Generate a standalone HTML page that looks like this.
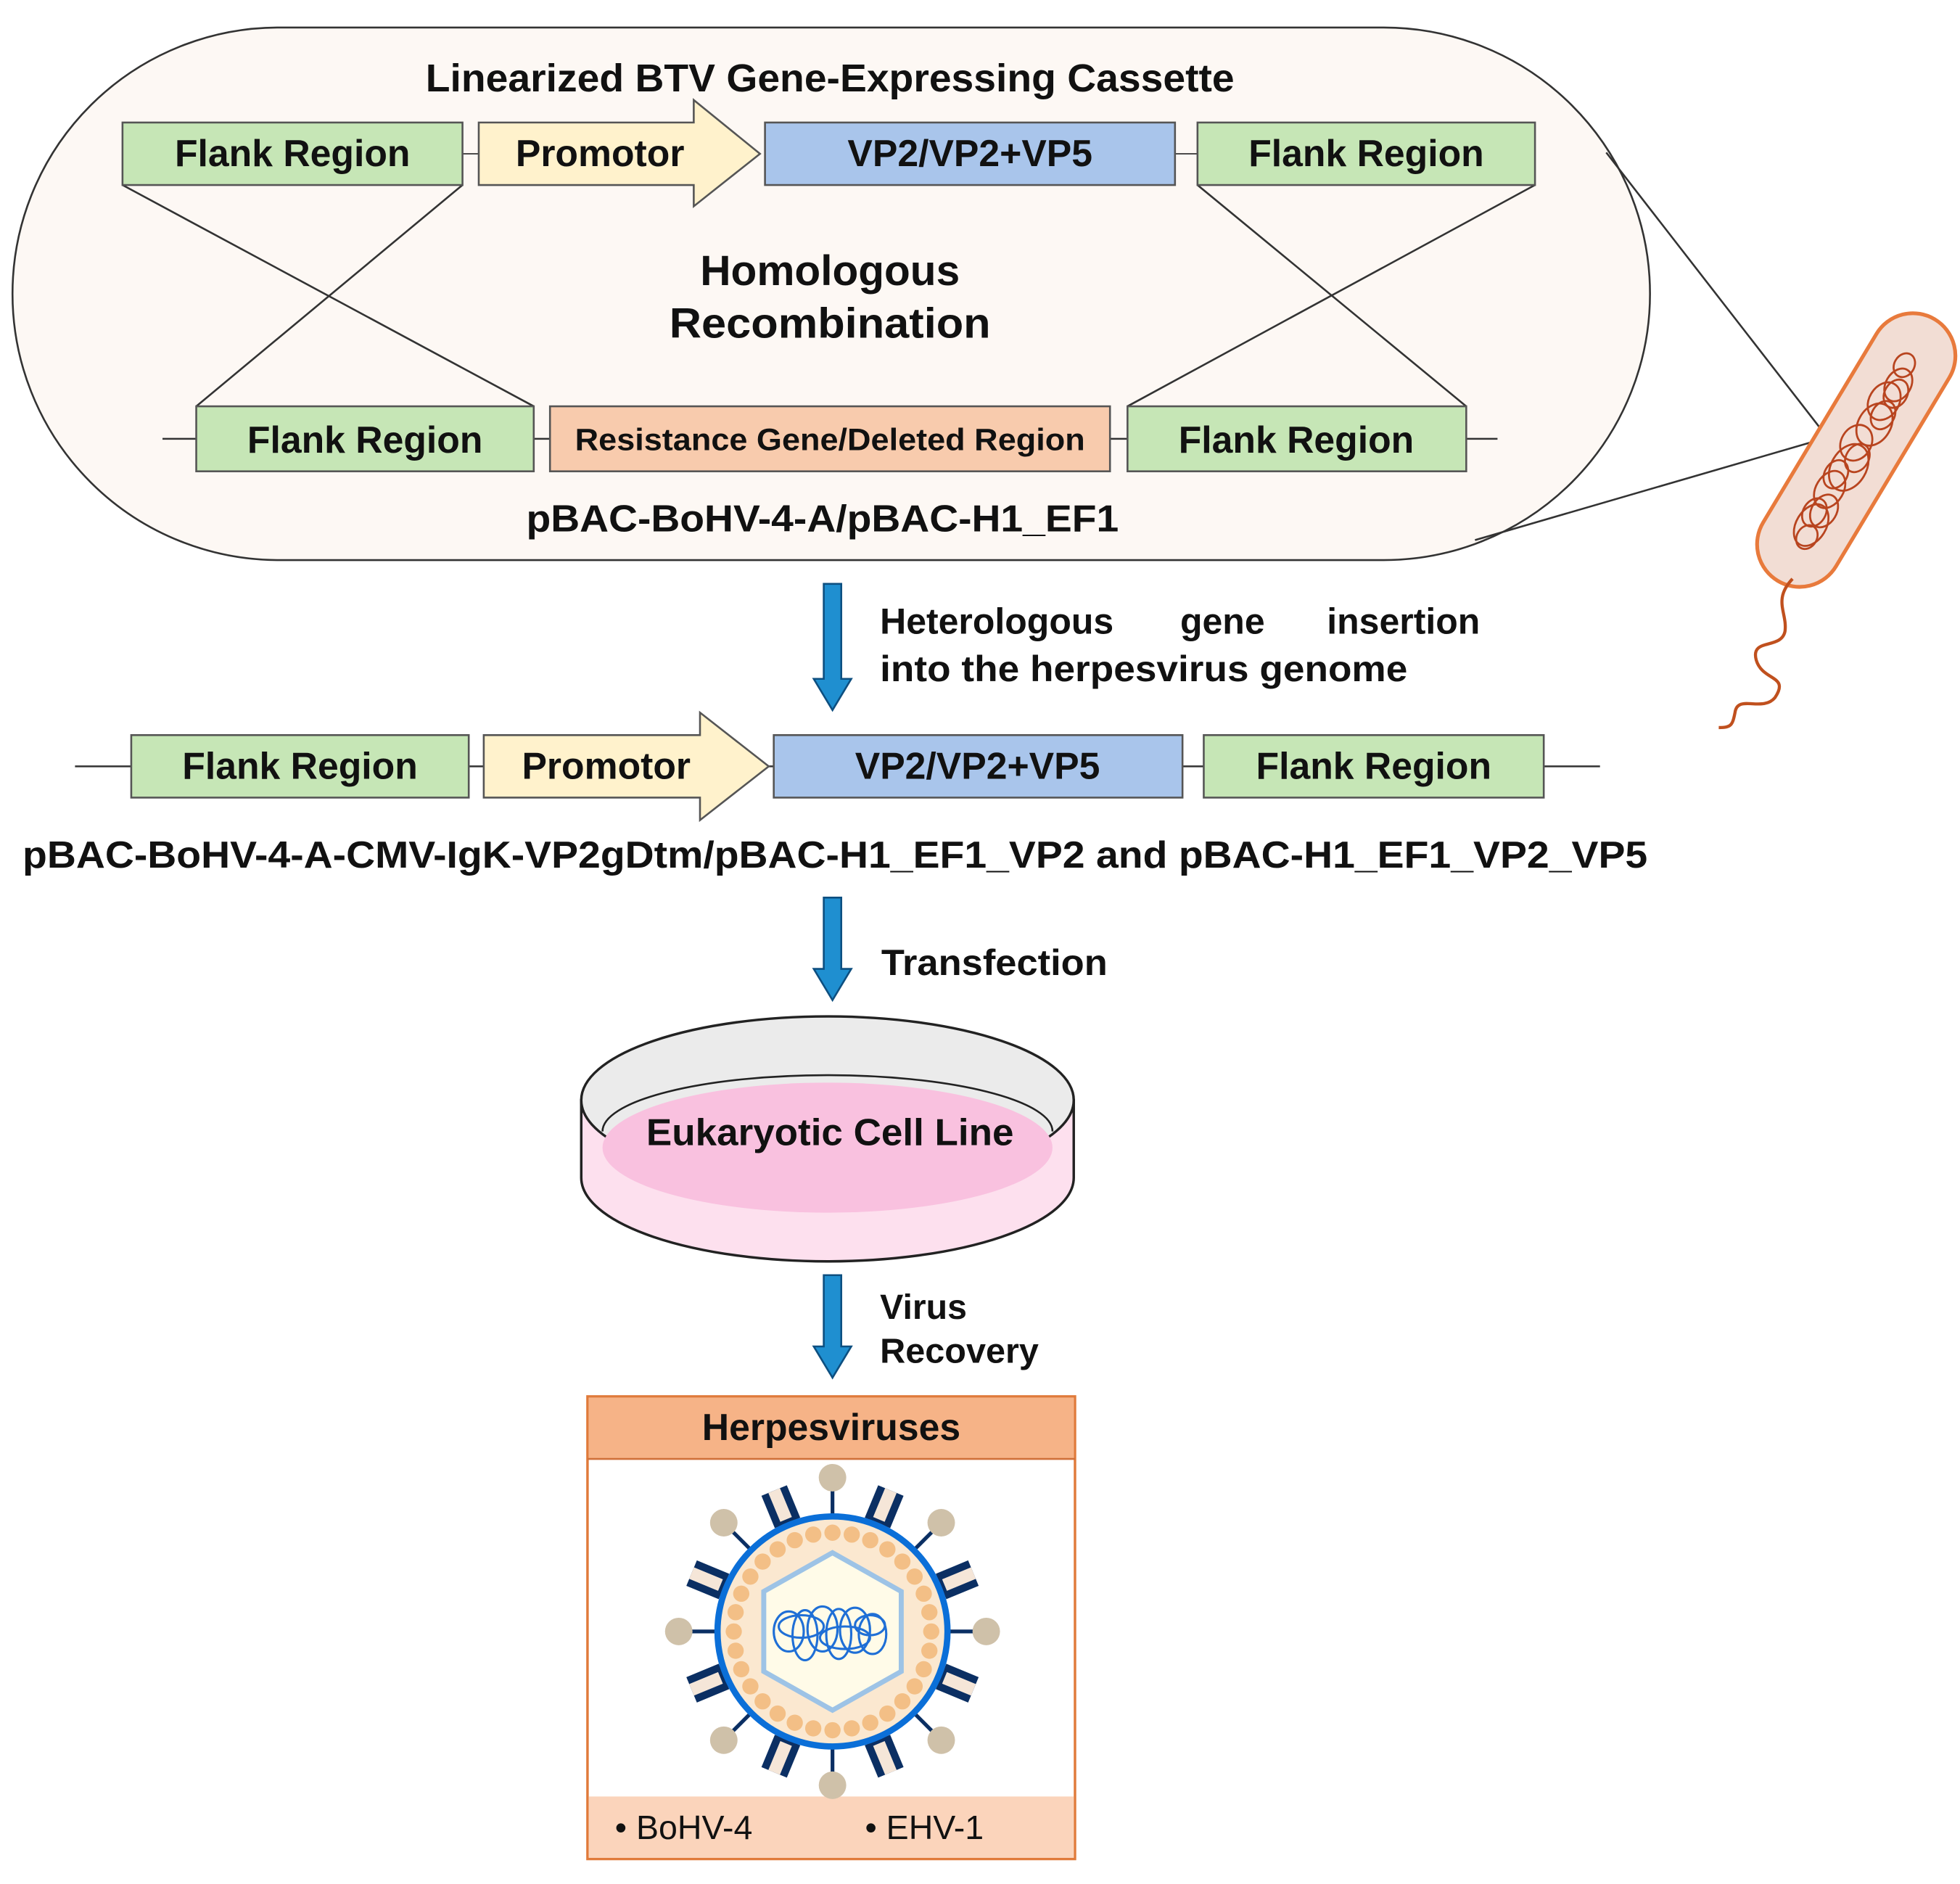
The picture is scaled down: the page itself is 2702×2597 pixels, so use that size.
<!DOCTYPE html>
<html><head><meta charset="utf-8"><style>
html,body{margin:0;padding:0;background:#fff}
svg{display:block}
text{font-family:"Liberation Sans",Arial,sans-serif;font-weight:bold;fill:#111}
</style></head><body>
<svg width="2702" height="2597" viewBox="0 0 1568 1507" preserveAspectRatio="none" xmlns="http://www.w3.org/2000/svg">
<defs>
<g id="lolli"><line x1="0" y1="-92" x2="0" y2="-116" stroke="#0b2f63" stroke-width="3"/><circle cx="0" cy="-123" r="11" fill="#cfc1a9"/></g>
<g id="block"><rect x="-11" y="-122" width="22" height="28" fill="#0b2f63"/><rect x="-5" y="-122" width="10" height="25" fill="#f5e6d8"/></g>
</defs>
<rect x="10" y="22" width="1310" height="426" rx="213" ry="213" fill="#fdf8f4" stroke="#333" stroke-width="1.5"/>
<line x1="1285" y1="122" x2="1462" y2="350" stroke="#333" stroke-width="1.5"/>
<line x1="1180" y1="432" x2="1462" y2="350" stroke="#333" stroke-width="1.5"/>
<text x="664" y="73" font-size="31" text-anchor="middle" textLength="647" lengthAdjust="spacingAndGlyphs">Linearized BTV Gene-Expressing Cassette</text>
<line x1="370" y1="123" x2="383" y2="123" stroke="#333"/>
<line x1="940" y1="123" x2="958" y2="123" stroke="#333"/>
<line x1="98" y1="148" x2="427" y2="325" stroke="#333" stroke-width="1.5"/>
<line x1="370" y1="148" x2="157" y2="325" stroke="#333" stroke-width="1.5"/>
<line x1="958" y1="148" x2="1173" y2="325" stroke="#333" stroke-width="1.5"/>
<line x1="1228" y1="148" x2="902" y2="325" stroke="#333" stroke-width="1.5"/>
<rect x="98" y="98" width="272" height="50" fill="#c6e6b6" stroke="#555" stroke-width="1.5"/>
<text x="234" y="133" font-size="30" text-anchor="middle">Flank Region</text>
<polygon points="383,98 555,98 555,80 608,123 555,165 555,148 383,148" fill="#fff2cc" stroke="#555" stroke-width="1.5"/>
<text x="480" y="133" font-size="30" text-anchor="middle">Promotor</text>
<rect x="612" y="98" width="328" height="50" fill="#a9c5eb" stroke="#555" stroke-width="1.5"/>
<text x="776" y="133" font-size="30" text-anchor="middle">VP2/VP2+VP5</text>
<rect x="958" y="98" width="270" height="50" fill="#c6e6b6" stroke="#555" stroke-width="1.5"/>
<text x="1093" y="133" font-size="30" text-anchor="middle">Flank Region</text>
<text x="664" y="228" font-size="34" text-anchor="middle">Homologous</text>
<text x="664" y="270" font-size="34" text-anchor="middle" textLength="257" lengthAdjust="spacingAndGlyphs">Recombination</text>
<line x1="130" y1="351" x2="1198" y2="351" stroke="#333" stroke-width="1.5"/>
<rect x="157" y="325" width="270" height="52" fill="#c6e6b6" stroke="#555" stroke-width="1.5"/>
<text x="292" y="362" font-size="30" text-anchor="middle">Flank Region</text>
<rect x="440" y="325" width="448" height="52" fill="#f8cbad" stroke="#555" stroke-width="1.5"/>
<text x="664" y="360" font-size="25" text-anchor="middle" textLength="408" lengthAdjust="spacingAndGlyphs">Resistance Gene/Deleted Region</text>
<rect x="902" y="325" width="271" height="52" fill="#c6e6b6" stroke="#555" stroke-width="1.5"/>
<text x="1037" y="362" font-size="30" text-anchor="middle">Flank Region</text>
<text x="658" y="425" font-size="30" text-anchor="middle" textLength="474" lengthAdjust="spacingAndGlyphs">pBAC-BoHV-4-A/pBAC-H1_EF1</text>
<g transform="translate(1485,360) rotate(-59)">
<rect x="-122" y="-34" width="244" height="68" rx="34" fill="#f2ddd4" stroke="#e87a3c" stroke-width="3"/>
<g fill="none" stroke="#b8441f" stroke-width="1.6">
<ellipse cx="-70" cy="0" rx="18" ry="12"/><ellipse cx="-55" cy="3" rx="14" ry="10"/><ellipse cx="-38" cy="-2" rx="16" ry="11"/>
<ellipse cx="-15" cy="2" rx="20" ry="14"/><ellipse cx="5" cy="-3" rx="15" ry="12"/><ellipse cx="25" cy="2" rx="18" ry="13"/>
<ellipse cx="45" cy="-1" rx="16" ry="12"/><ellipse cx="62" cy="2" rx="14" ry="10"/><ellipse cx="78" cy="-2" rx="10" ry="8"/>
<ellipse cx="-80" cy="2" rx="10" ry="8"/><ellipse cx="-25" cy="-4" rx="12" ry="9"/><ellipse cx="35" cy="4" rx="12" ry="9"/>
<ellipse cx="-60" cy="-3" rx="12" ry="9"/><ellipse cx="55" cy="4" rx="12" ry="9"/><ellipse cx="-5" cy="4" rx="12" ry="9"/>
</g>
</g>
<path d="M1434,463 C1418,480 1430,490 1428,505 C1425,520 1400,510 1405,528 C1410,545 1432,540 1420,558 C1410,570 1390,555 1388,570 C1386,580 1385,582 1375,582" fill="none" stroke="#c0501e" stroke-width="2.5"/>
<polygon points="659,467 673,467 673,543 681,543 666,568 651,543 659,543" fill="#1f8fd0" stroke="#0d4f80" stroke-width="1.5"/>
<text x="704" y="507" font-size="29">Heterologous</text>
<text x="978" y="507" font-size="29" text-anchor="middle">gene</text>
<text x="1184" y="507" font-size="29" text-anchor="end">insertion</text>
<text x="704" y="545" font-size="29" textLength="422" lengthAdjust="spacingAndGlyphs">into the herpesvirus genome</text>
<line x1="60" y1="613" x2="1280" y2="613" stroke="#333" stroke-width="1.5"/>
<rect x="105" y="588" width="270" height="50" fill="#c6e6b6" stroke="#555" stroke-width="1.5"/>
<text x="240" y="623" font-size="30" text-anchor="middle">Flank Region</text>
<polygon points="387,588 560,588 560,570 615,613 560,656 560,638 387,638" fill="#fff2cc" stroke="#555" stroke-width="1.5"/>
<text x="485" y="623" font-size="30" text-anchor="middle">Promotor</text>
<rect x="619" y="588" width="327" height="50" fill="#a9c5eb" stroke="#555" stroke-width="1.5"/>
<text x="782" y="623" font-size="30" text-anchor="middle">VP2/VP2+VP5</text>
<rect x="963" y="588" width="272" height="50" fill="#c6e6b6" stroke="#555" stroke-width="1.5"/>
<text x="1099" y="623" font-size="30" text-anchor="middle">Flank Region</text>
<text x="668" y="694" font-size="30" text-anchor="middle" textLength="1300" lengthAdjust="spacingAndGlyphs">pBAC-BoHV-4-A-CMV-IgK-VP2gDtm/pBAC-H1_EF1_VP2 and pBAC-H1_EF1_VP2_VP5</text>
<polygon points="659,718 673,718 673,775 681,775 666,800 651,775 659,775" fill="#1f8fd0" stroke="#0d4f80" stroke-width="1.5"/>
<text x="705" y="780" font-size="29" textLength="181" lengthAdjust="spacingAndGlyphs">Transfection</text>
<path d="M465,880 L465,942 A197,67 0 0 0 859,942 L859,880 Z" fill="#fde0ee" stroke="#222" stroke-width="2"/>
<ellipse cx="662" cy="880" rx="197" ry="67" fill="#ebebeb" stroke="#222" stroke-width="2"/>
<ellipse cx="662" cy="918" rx="180" ry="52" fill="#f9c1df"/>
<path d="M482,905 A180,45 0 0 1 842,905" fill="none" stroke="#222" stroke-width="1.5"/>
<text x="664" y="916" font-size="30" text-anchor="middle" textLength="294" lengthAdjust="spacingAndGlyphs">Eukaryotic Cell Line</text>
<polygon points="659,1020 673,1020 673,1077 681,1077 666,1102 651,1077 659,1077" fill="#1f8fd0" stroke="#0d4f80" stroke-width="1.5"/>
<text x="704" y="1055" font-size="28">Virus</text>
<text x="704" y="1090" font-size="28" textLength="127" lengthAdjust="spacingAndGlyphs">Recovery</text>
<rect x="470" y="1117" width="390" height="370" fill="#fff" stroke="#e07a3a" stroke-width="2"/>
<rect x="471" y="1118" width="388" height="49" fill="#f6b387"/>
<line x1="470" y1="1167" x2="860" y2="1167" stroke="#d0703a" stroke-width="1.5"/>
<rect x="471" y="1437" width="388" height="49" fill="#fbd4bb"/>
<text x="665" y="1152" font-size="30" text-anchor="middle">Herpesviruses</text>
<text x="492" y="1471" font-size="27" style="font-weight:normal">•  BoHV-4</text>
<text x="692" y="1471" font-size="27" style="font-weight:normal">•  EHV-1</text>
<g transform="translate(666,1305)">
<use href="#lolli"/><use href="#lolli" transform="rotate(45)"/><use href="#lolli" transform="rotate(90)"/><use href="#lolli" transform="rotate(135)"/>
<use href="#lolli" transform="rotate(180)"/><use href="#lolli" transform="rotate(225)"/><use href="#lolli" transform="rotate(270)"/><use href="#lolli" transform="rotate(315)"/>
<use href="#block" transform="rotate(22.5)"/><use href="#block" transform="rotate(-22.5)"/><use href="#block" transform="rotate(67.5)"/><use href="#block" transform="rotate(112.5)"/>
<use href="#block" transform="rotate(157.5)"/><use href="#block" transform="rotate(202.5)"/><use href="#block" transform="rotate(247.5)"/><use href="#block" transform="rotate(292.5)"/>
<circle r="92" fill="#fbe8d0" stroke="#0b6fd8" stroke-width="5"/>
<g fill="#f3bf86">
<circle cx="0" cy="-79" r="6.5"/><circle cx="15.4" cy="-77.5" r="6.5"/><circle cx="30.2" cy="-73" r="6.5"/><circle cx="43.9" cy="-65.7" r="6.5"/><circle cx="55.9" cy="-55.9" r="6.5"/><circle cx="65.7" cy="-43.9" r="6.5"/><circle cx="73" cy="-30.2" r="6.5"/><circle cx="77.5" cy="-15.4" r="6.5"/>
<circle cx="79" cy="0" r="6.5"/><circle cx="77.5" cy="15.4" r="6.5"/><circle cx="73" cy="30.2" r="6.5"/><circle cx="65.7" cy="43.9" r="6.5"/><circle cx="55.9" cy="55.9" r="6.5"/><circle cx="43.9" cy="65.7" r="6.5"/><circle cx="30.2" cy="73" r="6.5"/><circle cx="15.4" cy="77.5" r="6.5"/>
<circle cx="0" cy="79" r="6.5"/><circle cx="-15.4" cy="77.5" r="6.5"/><circle cx="-30.2" cy="73" r="6.5"/><circle cx="-43.9" cy="65.7" r="6.5"/><circle cx="-55.9" cy="55.9" r="6.5"/><circle cx="-65.7" cy="43.9" r="6.5"/><circle cx="-73" cy="30.2" r="6.5"/><circle cx="-77.5" cy="15.4" r="6.5"/>
<circle cx="-79" cy="0" r="6.5"/><circle cx="-77.5" cy="-15.4" r="6.5"/><circle cx="-73" cy="-30.2" r="6.5"/><circle cx="-65.7" cy="-43.9" r="6.5"/><circle cx="-55.9" cy="-55.9" r="6.5"/><circle cx="-43.9" cy="-65.7" r="6.5"/><circle cx="-30.2" cy="-73" r="6.5"/><circle cx="-15.4" cy="-77.5" r="6.5"/>
</g>
<polygon points="0,-63 55,-32 55,32 0,63 -55,32 -55,-32" fill="#fffbe8" stroke="#9dc3e6" stroke-width="4"/>
<g fill="none" stroke="#1f6fd6" stroke-width="1.8">
<ellipse cx="-35" cy="0" rx="12" ry="16"/><ellipse cx="-22" cy="3" rx="10" ry="20"/><ellipse cx="-8" cy="-2" rx="12" ry="18"/>
<ellipse cx="5" cy="2" rx="10" ry="20"/><ellipse cx="18" cy="-1" rx="12" ry="18"/><ellipse cx="32" cy="2" rx="11" ry="16"/>
<ellipse cx="-25" cy="-4" rx="18" ry="9"/><ellipse cx="10" cy="5" rx="20" ry="9"/><ellipse cx="30" cy="-5" rx="12" ry="8"/>
</g>
</g>
</svg>
</body></html>
